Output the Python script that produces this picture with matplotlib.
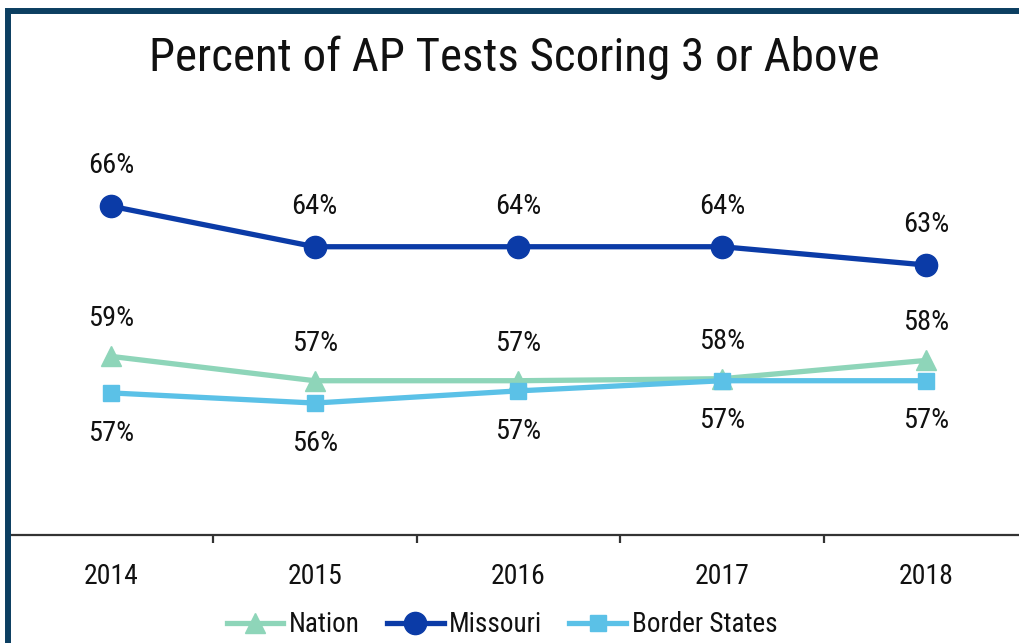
import numpy as np
import matplotlib
matplotlib.use('Agg')
import matplotlib.pyplot as plt
from matplotlib.patches import Rectangle

# Datos
anios = ['2014', '2015', '2016', '2017', '2018']
nation = [58.6, 57.4, 57.4, 57.5, 58.4]
missouri = [66.0, 64.0, 64.0, 64.0, 63.1]
border_states = [56.8, 56.3, 56.9, 57.4, 57.4]

plt.rcParams['font.family'] = ['Roboto Condensed', 'DejaVu Sans']

fig = plt.figure(figsize=(10.2, 6.43), dpi=100)
ax = fig.add_axes([9 / 1020, 108 / 643, 1019 / 1020, 406 / 643])

x = np.arange(len(anios))
ax.plot(x, nation, color='#8ed5b9', lw=3.8, marker='^', ms=14, label='Nation')
ax.plot(x, missouri, color='#0b3ba7', lw=3.8, marker='o', ms=16, label='Missouri')
ax.plot(x, border_states, color='#5bc1e7', lw=3.8, marker='s', ms=12, label='Border States')

# Etiquetas de datos
for xi, v in zip(x, missouri):
    ax.annotate(f'{v:.0f}%', (xi, v), xytext=(0, 29), textcoords='offset points',
                ha='center', va='center', fontsize=20.5, color='#111111')
for xi, v in zip(x, nation):
    ax.annotate(f'{v:.0f}%', (xi, v), xytext=(0, 27), textcoords='offset points',
                ha='center', va='center', fontsize=20.5, color='#111111')
for xi, v in zip(x, border_states):
    ax.annotate(f'{v:.0f}%', (xi, v), xytext=(0, -29), textcoords='offset points',
                ha='center', va='center', fontsize=20.5, color='#111111')

ax.set_xlim(-0.5, len(anios) - 0.5)
ax.set_ylim(49.8, 69.8)
ax.set_yticks([])
for s in ['left', 'right', 'top']:
    ax.spines[s].set_visible(False)
ax.spines['bottom'].set_color('#333333')
ax.spines['bottom'].set_linewidth(1.6)
ax.set_xticks(x)
ax.set_xticklabels(anios, fontsize=20, color='#111111')
ax.set_xticks(x[:-1] + 0.5, minor=True)
ax.tick_params(axis='x', which='major', length=0, pad=20)
ax.tick_params(axis='x', which='minor', length=6, width=1.6, color='#333333')

fig.text(0.504, 0.91, 'Percent of AP Tests Scoring 3 or Above', ha='center', va='center',
         fontsize=33.8, color='#111111')

leg = fig.legend(loc='center', bbox_to_anchor=(0.492, 0.028), ncol=3, frameon=False, fontsize=19.5,
                 handlelength=2.1, handletextpad=0.2, columnspacing=1.0)
for t in leg.get_texts():
    t.set_color('#111111')

# Marco
fig.patches.append(Rectangle((8 / 1020, -0.1), 1.2, (643 - 10.5) / 643 + 0.1,
                             transform=fig.transFigure, fill=False,
                             edgecolor='#0c3f61', lw=4.3))

fig.savefig('out.png', dpi=100)
